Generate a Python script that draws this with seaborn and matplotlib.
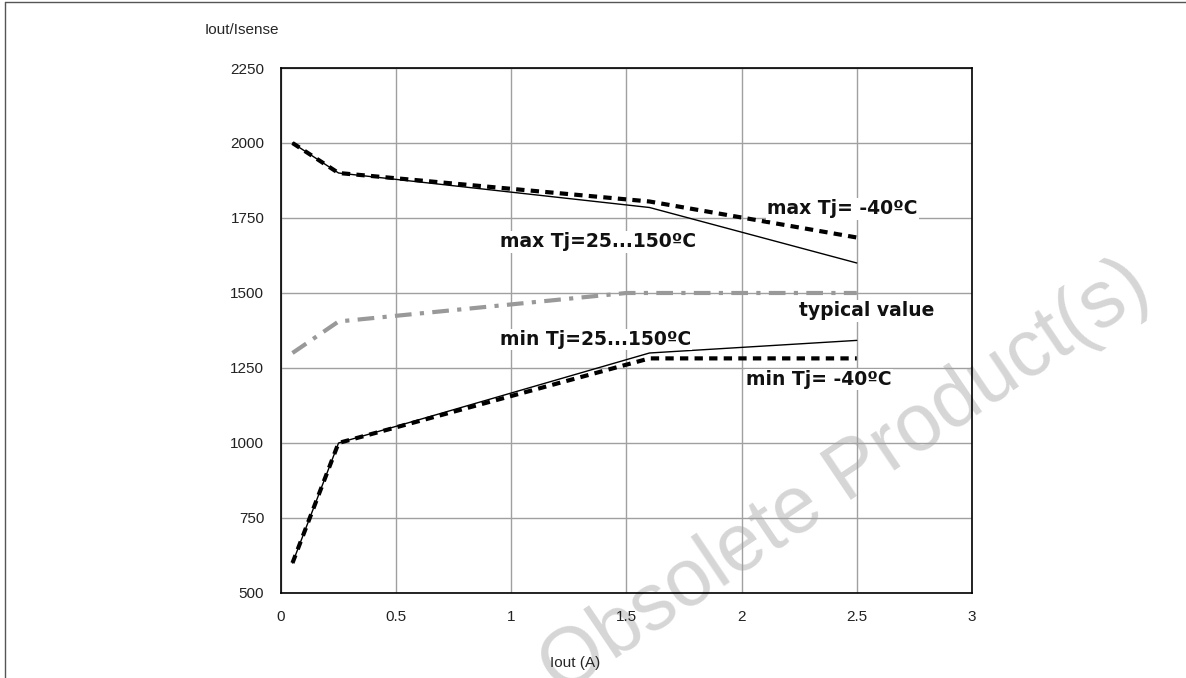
import matplotlib.pyplot as plt
import pandas as pd
import seaborn as sns
from matplotlib.lines import Line2D

# curve data
max_hot_x = [0.05, 0.25, 1.6, 2.5]
max_hot_y = [2000, 1900, 1785, 1600]
max_cold_x = [0.05, 0.25, 1.6, 2.5]
max_cold_y = [2000, 1900, 1805, 1685]
typ_x = [0.05, 0.25, 1.5, 2.5]
typ_y = [1300, 1405, 1500, 1500]
min_hot_x = [0.05, 0.25, 1.6, 2.5]
min_hot_y = [600, 1000, 1300, 1342]
min_cold_x = [0.05, 0.25, 1.6, 2.5]
min_cold_y = [600, 1000, 1282, 1282]

x_ticks = [0, 0.5, 1, 1.5, 2, 2.5, 3]
x_tick_labels = ["0", "0.5", "1", "1.5", "2", "2.5", "3"]
y_ticks = [500, 750, 1000, 1250, 1500, 1750, 2000, 2250]

sns.set_style("white")
plt.rcParams["font.family"] = ["Liberation Sans", "DejaVu Sans"]

fig = plt.figure(figsize=(11.86, 6.78), dpi=100)
ax = fig.add_axes([0.2369, 0.1254, 0.5826, 0.7743])
ax.patch.set_alpha(0)

series = [
    (max_hot_x, max_hot_y, dict(color="black", linewidth=1.0, linestyle="-")),
    (max_cold_x, max_cold_y, dict(color="black", linewidth=3.0, linestyle=(0, (2, 1.5)))),
    (typ_x, typ_y, dict(color="#999999", linewidth=3.0, linestyle=(0, (4, 2, 1, 2)))),
    (min_hot_x, min_hot_y, dict(color="black", linewidth=1.0, linestyle="-")),
    (min_cold_x, min_cold_y, dict(color="black", linewidth=3.0, linestyle=(0, (2, 1.5)))),
]
for xs, ys, style in series:
    df = pd.DataFrame({"x": xs, "y": ys})
    sns.lineplot(data=df, x="x", y="y", ax=ax, sort=False, zorder=3, **style)

ax.set_xlim(0, 3)
ax.set_ylim(500, 2250)
ax.set_xticks(x_ticks)
ax.set_xticklabels(x_tick_labels)
ax.set_yticks(y_ticks)
ax.tick_params(axis="both", length=0, labelsize=11, pad=12, colors="#222222")
ax.grid(True, color="#a0a0a0", linewidth=1.0)
for s in ax.spines.values():
    s.set_color("black")
    s.set_linewidth(1.2)
ax.set_xlabel("")
ax.set_ylabel("")

fig.text(205 / 1186, 1 - 30 / 678, "Iout/Isense", fontsize=11, ha="left", va="center")
fig.text(575 / 1186, 1 - 663 / 678, "Iout (A)", fontsize=11, ha="center", va="center")

lbl = dict(fontsize=13.5, fontweight="bold", family="DejaVu Sans", color="#111111",
           ha="left", va="center", zorder=4,
           bbox=dict(facecolor="white", edgecolor="none", pad=1))
ax.text(2.11, 1780, "max Tj= -40ºC", **lbl)
ax.text(0.95, 1670, "max Tj=25...150ºC", **lbl)
ax.text(2.25, 1440, "typical value", **lbl)
ax.text(0.95, 1345, "min Tj=25...150ºC", **lbl)
ax.text(2.02, 1212, "min Tj= -40ºC", **lbl)

# watermark, behind the axes
fig.text(845 / 1186, 1 - 478 / 678, "Obsolete Product(s)", fontsize=58, color="#d6d6d6",
         rotation=34, ha="center", va="center", zorder=-1)

# page frame lines
fig.add_artist(Line2D([5 / 1186, 5 / 1186], [0, 1 - 2 / 678], color="#555555", linewidth=1))
fig.add_artist(Line2D([5 / 1186, 1], [1 - 2 / 678, 1 - 2 / 678], color="#555555", linewidth=1))

fig.savefig("out.png", dpi=100)
